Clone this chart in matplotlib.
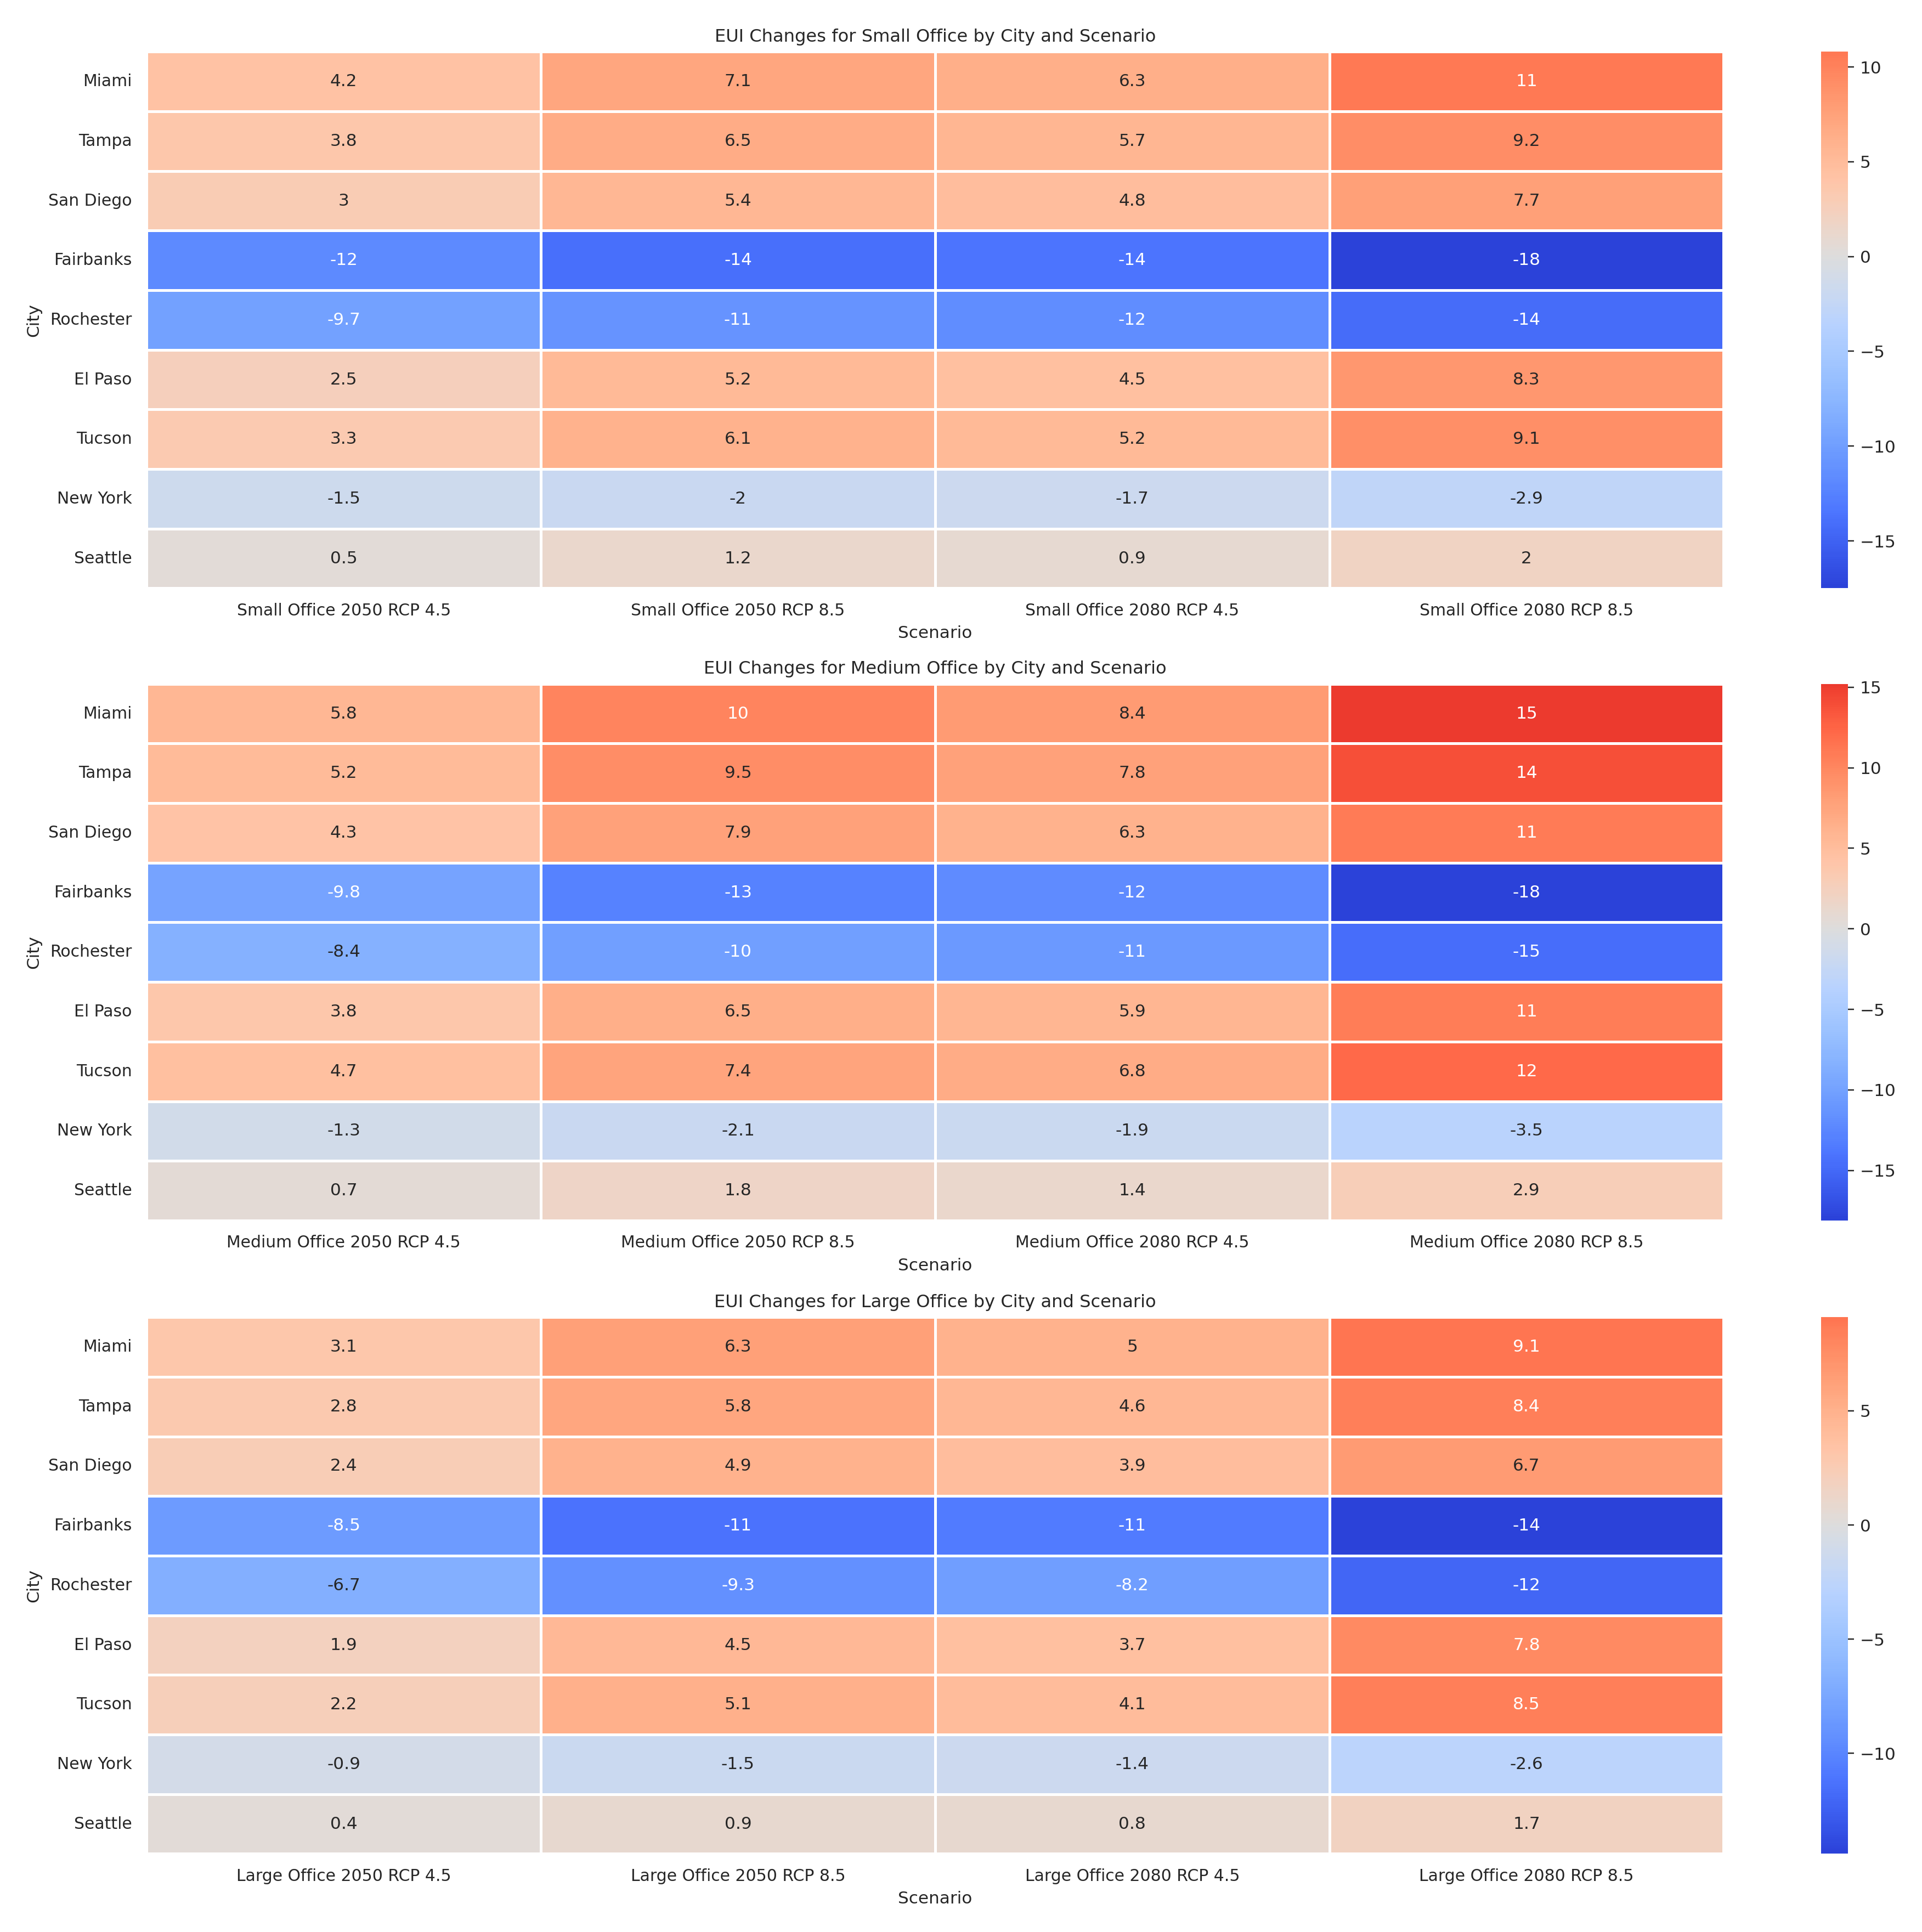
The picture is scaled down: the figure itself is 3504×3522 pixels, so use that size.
import numpy as np
import pandas as pd
import matplotlib
matplotlib.use("Agg")
import matplotlib.pyplot as plt
from matplotlib.colors import ListedColormap
import seaborn as sns

cities = ['Miami', 'Tampa', 'San Diego', 'Fairbanks', 'Rochester',
          'El Paso', 'Tucson', 'New York', 'Seattle']
periods = ['2050 RCP 4.5', '2050 RCP 8.5', '2080 RCP 4.5', '2080 RCP 8.5']

# EUI change per city, columns follow periods
small_office = [
    [4.2, 7.1, 6.3, 10.8],
    [3.8, 6.5, 5.7, 9.2],
    [3.0, 5.4, 4.8, 7.7],
    [-11.8, -13.9, -13.6, -17.5],
    [-9.7, -10.9, -11.6, -14.2],
    [2.5, 5.2, 4.5, 8.3],
    [3.3, 6.1, 5.2, 9.1],
    [-1.5, -2.0, -1.7, -2.9],
    [0.5, 1.2, 0.9, 2.0],
]
medium_office = [
    [5.8, 10.2, 8.4, 15.2],
    [5.2, 9.5, 7.8, 13.8],
    [4.3, 7.9, 6.3, 10.9],
    [-9.8, -12.8, -12.1, -18.1],
    [-8.4, -10.2, -10.8, -14.6],
    [3.8, 6.5, 5.9, 10.7],
    [4.7, 7.4, 6.8, 12.1],
    [-1.3, -2.1, -1.9, -3.5],
    [0.7, 1.8, 1.4, 2.9],
]
large_office = [
    [3.1, 6.3, 5.0, 9.1],
    [2.8, 5.8, 4.6, 8.4],
    [2.4, 4.9, 3.9, 6.7],
    [-8.5, -11.2, -10.7, -14.4],
    [-6.7, -9.3, -8.2, -12.1],
    [1.9, 4.5, 3.7, 7.8],
    [2.2, 5.1, 4.1, 8.5],
    [-0.9, -1.5, -1.4, -2.6],
    [0.4, 0.9, 0.8, 1.7],
]

buildings = ['Small Office', 'Medium Office', 'Large Office']
tables = [small_office, medium_office, large_office]

# coolwarm, pushed a little away from grey so it looks as vivid as the reference
cw = plt.get_cmap('coolwarm')(np.linspace(0, 1, 256))[:, :3]
grey = cw.mean(axis=1, keepdims=True)
cmap = ListedColormap(np.clip(grey + 1.3 * (cw - grey), 0, 1))

fig = plt.figure(figsize=(3504 / 224.6, 3522 / 224.6))

tops = [0.9732, 0.6460, 0.3182]
h = 0.2777

for i, (b, vals) in enumerate(zip(buildings, tables)):
    df = pd.DataFrame(vals, index=cities,
                      columns=[f'{b} {p}' for p in periods])
    ax = fig.add_axes([0.0763, tops[i] - h, 0.8205, h])
    cax = fig.add_axes([0.9474, tops[i] - h, 0.0141, h])
    sns.heatmap(df, ax=ax, cbar_ax=cax, cmap=cmap, center=0,
                annot=True, linewidths=1, linecolor='white')
    ax.set_title(f'EUI Changes for {b} by City and Scenario', fontsize=10.3, color='.15')
    ax.set_xlabel('Scenario', color='.15')
    ax.set_ylabel('City', color='.15')
    ax.tick_params(axis='both', length=0, pad=8.5, labelsize=9.6, labelcolor='.15')
    ax.tick_params(axis='y', rotation=0)
    ax.tick_params(axis='x', rotation=0)
    cax.tick_params(labelcolor='.15', color='.15')

plt.savefig('out.png', dpi=224.6)
